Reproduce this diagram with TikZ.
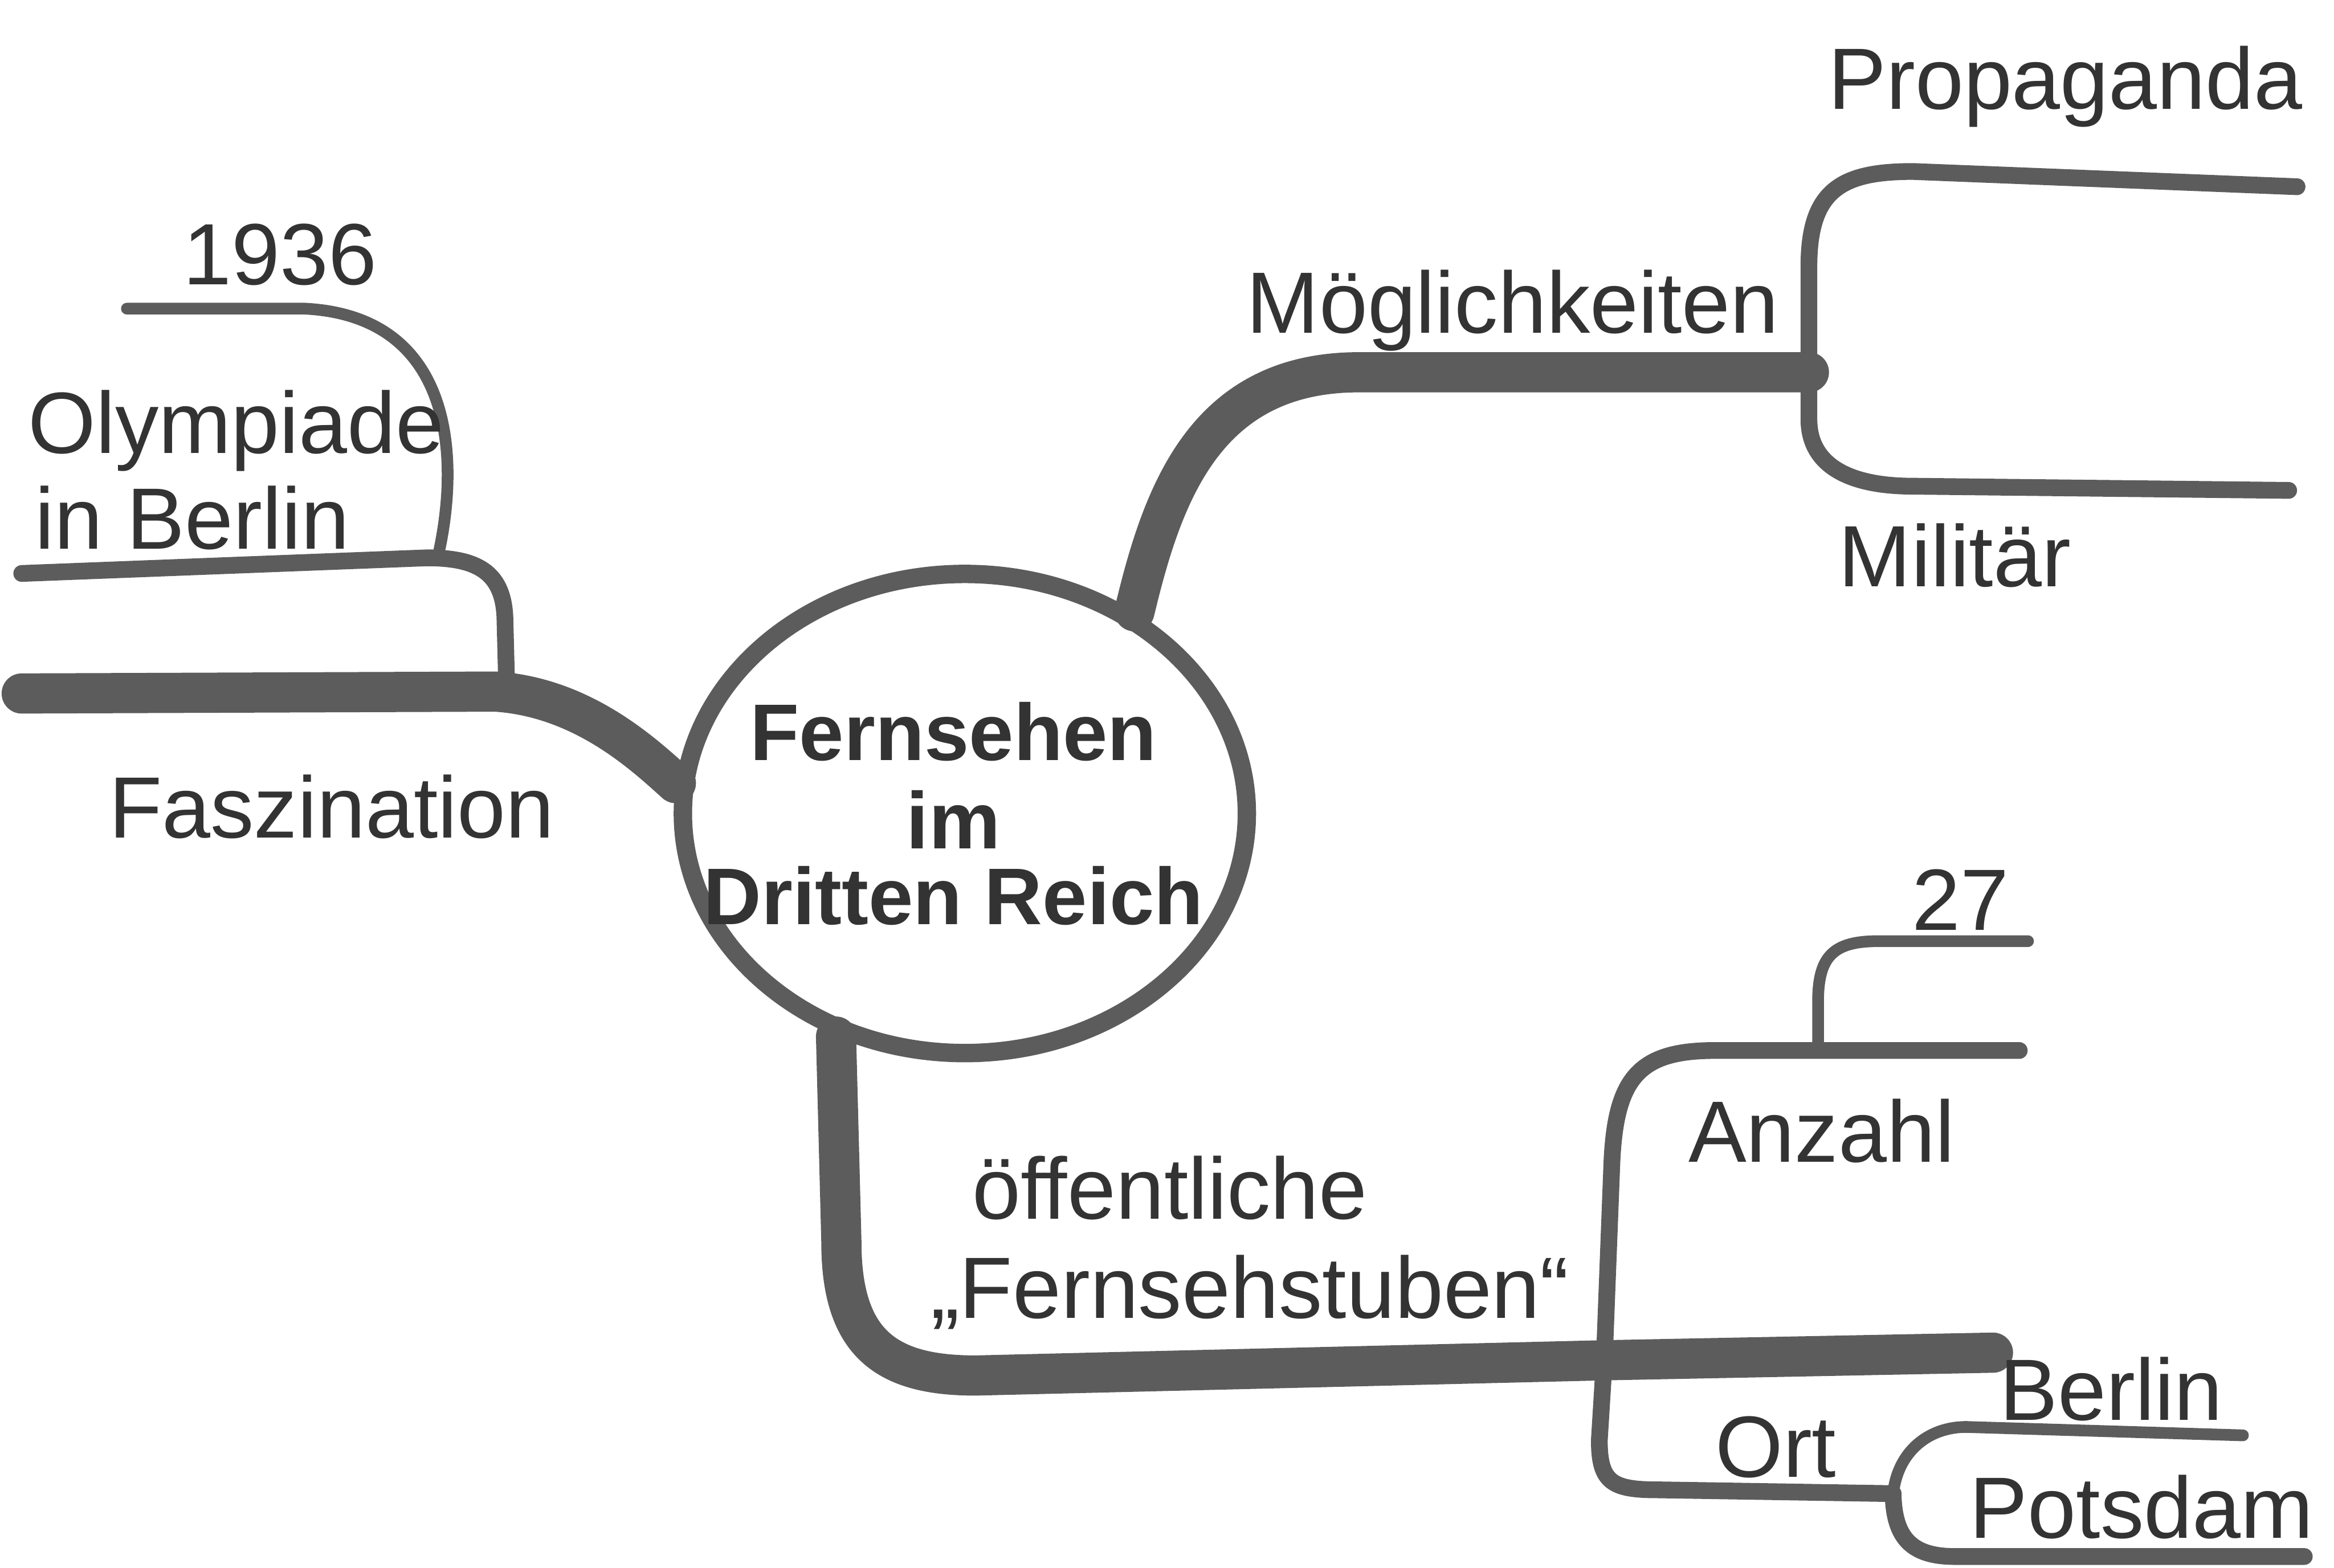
\documentclass[tikz,border=0pt]{standalone}
\usepackage{fontspec}
\setmainfont{Liberation Sans}
\usetikzlibrary{shapes.geometric}

\definecolor{pencil}{gray}{0.36}
\definecolor{lead}{gray}{0.2}
\tikzset{
  branch/.style={draw=pencil, line width=12pt, line cap=round},
  twig/.style={draw=pencil, line width=5pt, line cap=round},
  fine/.style={draw=pencil, line width=3.5pt, line cap=round},
  lbl/.style={text=lead, inner sep=0pt, anchor=base, font=\fontsize{26}{30}\selectfont},
  hub/.style={draw=pencil, ellipse, line width=5.5pt, minimum width=5.92cm, minimum height=5.03cm, inner sep=0pt},
  hubtext/.style={text=lead, align=center, inner sep=0pt, font=\bfseries\fontsize{24}{29}\selectfont}
}

\begin{document}
\begin{tikzpicture}[x=0.4cm, y=0.4cm]
\useasboundingbox (0,0) rectangle (61.25,-41.15);

% centre
\node[hub] (core) at (25.32,-21.35) {};
\node[hubtext] (title) at ([xshift=-0.12cm]core.center) {Fernsehen\\[-2.5pt] im\\[-6.5pt] Dritten Reich};

% junctions and free ends
\coordinate (mj) at (47.47,-9.77);
\coordinate (fj) at (13.3,-18.15);
\coordinate (oj) at (11.48,-14.66);
\coordinate (sj) at (42.1,-35.7);
\coordinate (aj) at (47.71,-27.57);
\coordinate (pj) at (49.68,-39.2);
\coordinate (propEnd) at (60.28,-4.9);
\coordinate (milEnd) at (60.06,-12.87);
\coordinate (faszEnd) at (0.57,-18.2);
\coordinate (olymEnd) at (0.57,-15.05);
\coordinate (yearEnd) at (3.33,-8.1);
\coordinate (stubEnd) at (52.3,-35.5);
\coordinate (anzEnd) at (52.99,-27.57);
\coordinate (numEnd) at (53.22,-24.7);
\coordinate (berlEnd) at (58.86,-37.67);
\coordinate (potsEnd) at (60.47,-40.85);

% Moeglichkeiten
\draw[branch] (core.50) .. controls (30.5,-13.0) and (31.6,-9.8) .. (35.6,-9.77) -- (mj);
\draw[twig] (mj) -- (47.47,-7.0) .. controls (47.47,-5.0) and (48.3,-4.5) .. (50.2,-4.5) -- (propEnd);
\draw[twig] (mj) -- (47.47,-11.0) .. controls (47.47,-12.2) and (48.5,-12.76) .. (50.2,-12.76) -- (milEnd);

% Faszination
\draw[branch] (core.174) .. controls (16.9,-19.8) and (15.3,-18.3) .. (13.0,-18.15) -- (faszEnd);
\draw[twig] (fj) -- (13.25,-16.2) .. controls (13.2,-15.0) and (12.5,-14.64) .. (11.2,-14.64) -- (olymEnd);
\draw[fine] (oj) .. controls (12.1,-12.0) and (11.9,-8.3) .. (8.0,-8.1) -- (yearEnd);

% Fernsehstuben
\draw[branch] (core.240) -- (22.08,-32.6) .. controls (22.08,-35.3) and (23.3,-36.1) .. (25.6,-36.1) -- (sj) -- (stubEnd);
\draw[twig] (sj) -- (42.3,-30.5) .. controls (42.4,-28.3) and (43.0,-27.57) .. (45.0,-27.57) -- (aj) -- (anzEnd);
\draw[fine] (aj) -- (47.71,-26.3) .. controls (47.71,-25.1) and (48.1,-24.7) .. (49.3,-24.7) -- (numEnd);
\draw[twig] (sj) -- (41.97,-37.8) .. controls (41.97,-38.9) and (42.3,-39.1) .. (43.5,-39.1) -- (pj);
\draw[fine] (pj) .. controls (49.8,-38.1) and (50.6,-37.45) .. (51.6,-37.45) -- (berlEnd);
\draw[twig] (pj) .. controls (49.7,-40.4) and (50.2,-40.85) .. (51.3,-40.85) -- (potsEnd);

% labels
\node[lbl] (prop) at (54.2,-2.86) {Propaganda};
\node[lbl] (mil) at (51.3,-15.40) {Militär};
\node[lbl] (moeg) at (39.7,-8.74) {Möglichkeiten};
\node[lbl] (fasz) at (8.7,-21.99) {Faszination};
\node[lbl] (olym) at (6.2,-11.89) {Olympiade};
\node[lbl] (inb) at (5.05,-14.41) {in Berlin};
\node[lbl] (year) at (7.35,-7.47) {1936};
\node[lbl] (oeff) at (30.7,-31.99) {öffentliche};
\node[lbl] (stub) at (32.8,-34.6) {„Fernsehstuben“};
\node[lbl] (anz) at (47.8,-30.50) {Anzahl};
\node[lbl] (num) at (51.45,-24.41) {27};
\node[lbl] (ort) at (46.6,-38.76) {Ort};
\node[lbl] (berl) at (55.4,-37.27) {Berlin};
\node[lbl] (pots) at (56.2,-40.37) {Potsdam};
\end{tikzpicture}
\end{document}
